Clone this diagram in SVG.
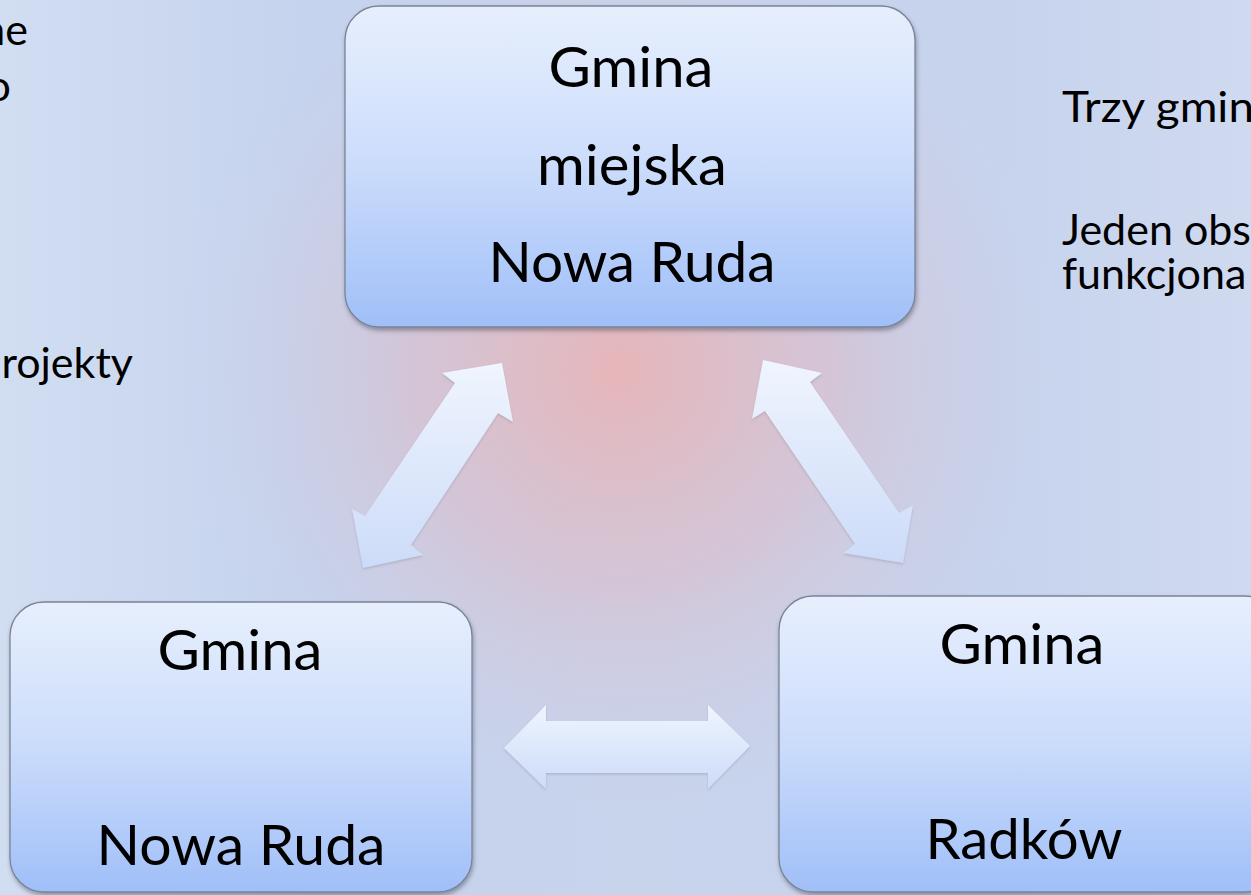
<svg xmlns="http://www.w3.org/2000/svg" width="1251" height="895" viewBox="0 0 1251 895">
<style>
.box{stroke:#7a8496;stroke-width:1.3;fill:url(#boxg);filter:url(#sh)}
.bt{font-family:Lato,"Open Sans","Liberation Sans",sans-serif;font-size:56px;fill:#000;text-anchor:middle}
.st{font-family:Lato,"Open Sans","Liberation Sans",sans-serif;font-size:43px;fill:#000}
.arr{fill:url(#arrg);filter:url(#ash)}
</style>
<defs>
<linearGradient id="bg" x1="0" y1="0" x2="1" y2="0">
<stop offset="0" stop-color="#d1ddf1"/>
<stop offset="0.25" stop-color="#c5d3ee"/>
<stop offset="0.5" stop-color="#c8d3ec"/>
<stop offset="0.8" stop-color="#c7d3ed"/>
<stop offset="1" stop-color="#cfdaf0"/>
</linearGradient>
<radialGradient id="glow" cx="620" cy="370" r="470" gradientUnits="userSpaceOnUse">
<stop offset="0" stop-color="#e8b4b6" stop-opacity="0.95"/>
<stop offset="0.45" stop-color="#dcbcc8" stop-opacity="0.6"/>
<stop offset="1" stop-color="#c8d3ec" stop-opacity="0"/>
</radialGradient>
<linearGradient id="boxg" x1="0" y1="0" x2="0" y2="1">
<stop offset="0" stop-color="#e7effd"/>
<stop offset="0.5" stop-color="#cbdcfb"/>
<stop offset="1" stop-color="#a0bff8"/>
</linearGradient>
<linearGradient id="arrg" x1="0" y1="0" x2="0" y2="1">
<stop offset="0" stop-color="#f0f5fe"/>
<stop offset="1" stop-color="#ccdbf8"/>
</linearGradient>
<filter id="sh" x="-5%" y="-5%" width="110%" height="115%">
<feDropShadow dx="1" dy="3" stdDeviation="2" flood-color="#3a4255" flood-opacity="0.45"/>
</filter>
<filter id="ash" x="-10%" y="-10%" width="120%" height="120%">
<feDropShadow dx="0" dy="1.5" stdDeviation="1" flood-color="#7a8090" flood-opacity="0.35"/>
</filter>
</defs>
<rect x="0" y="0" width="1251" height="895" fill="url(#bg)"/>
<rect x="0" y="0" width="1251" height="895" fill="url(#glow)"/>

<g id="side-text">
<text class="st" x="28" y="45" text-anchor="end">ne</text>
<text class="st" x="11" y="101" text-anchor="end">o</text>
<text class="st" x="133" y="378" text-anchor="end">rojekty</text>
<text class="st" x="1062" y="122" textLength="192" lengthAdjust="spacingAndGlyphs">Trzy gmin</text>
<text class="st"><tspan x="1062" y="245">Jeden obs</tspan><tspan x="1062" y="289">funkcjona</tspan></text>
</g>

<g id="connectors">
<polygon class="arr" points="502,363 513,422 498,413 411,545 423,555 363,568 352,509 365,516 455,383 442,373"/>
<polygon class="arr" points="763,360 822,373 810,382 899,513 913,505 903,563 843,553 855,544 765,411 752,419"/>
<polygon class="arr" points="504,748 546,705 546,721 708,721 708,705 750,746 708,789 708,773 546,773 546,789"/>
</g>

<g id="node-miejska">
<rect class="box" x="345" y="6" width="570" height="321" rx="34"/>
<text class="bt" x="631" y="87" textLength="165" lengthAdjust="spacingAndGlyphs">Gmina</text>
<text class="bt" x="632" y="185" textLength="190" lengthAdjust="spacingAndGlyphs">miejska</text>
<text class="bt" x="632" y="282" textLength="287" lengthAdjust="spacingAndGlyphs">Nowa Ruda</text>
</g>

<g id="node-nowaruda">
<rect class="box" x="10" y="602" width="462" height="290" rx="34"/>
<text class="bt" x="240" y="670" textLength="165" lengthAdjust="spacingAndGlyphs">Gmina</text>
<text class="bt" x="241" y="865" textLength="289" lengthAdjust="spacingAndGlyphs">Nowa Ruda</text>
</g>

<g id="node-radkow">
<rect class="box" x="779" y="596" width="500" height="296" rx="34"/>
<text class="bt" x="1022" y="664" textLength="165" lengthAdjust="spacingAndGlyphs">Gmina</text>
<text class="bt" x="1024" y="859" textLength="197" lengthAdjust="spacingAndGlyphs">Radków</text>
</g>
</svg>
